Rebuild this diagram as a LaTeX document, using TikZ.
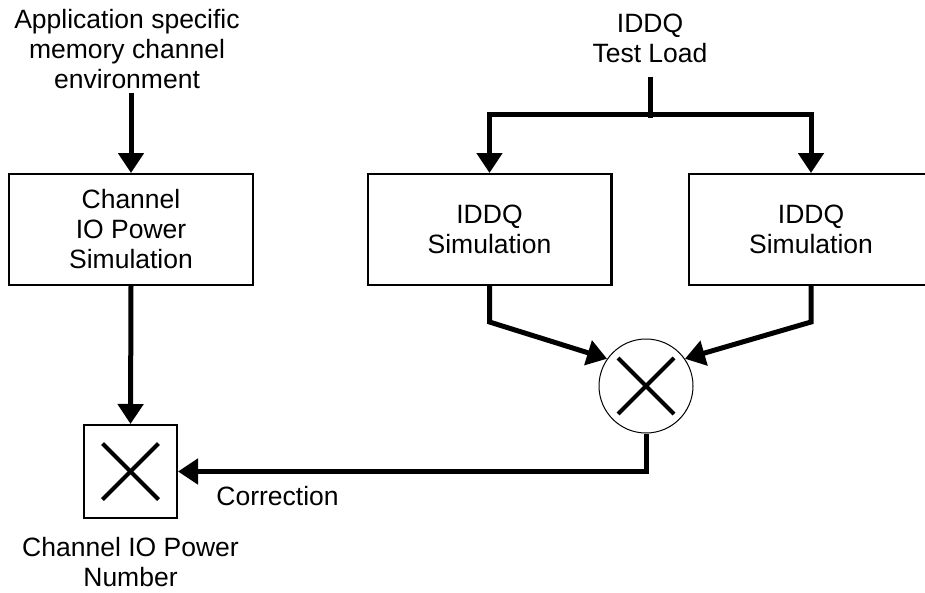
\documentclass[tikz,border=0pt]{standalone}
\usepackage{fontspec}
\setmainfont{Liberation Sans}
\usetikzlibrary{arrows.meta}
\begin{document}
\begin{tikzpicture}[x=1pt,y=-1pt,
	txt/.style={align=center,inner sep=2pt,font=\fontsize{26.5}{30}\selectfont},
	block/.style={txt,draw,line width=2.4pt,minimum width=243.6pt,minimum height=110.6pt},
	wire/.style={line width=5pt},
	flow/.style={wire,-{Triangle[width=25pt,length=20pt]}},
	cross/.style={line width=4pt}]
	\useasboundingbox (0,0) rectangle (925,592);
% inputs
	\node[txt] (env) at (127,49) {Application specific\\memory channel\\environment};
	\node[txt] (load) at (650,38) {IDDQ\\Test Load};

% simulation blocks
	\node[block] (chan) at (131,229.5) {Channel\\IO Power\\Simulation};
	\node[block] (simA) at (489.5,229.5) {IDDQ\\Simulation};
	\node[block] (simB) at (811,229.5) {IDDQ\\Simulation};

% multipliers
	\node[draw,circle,line width=1pt,minimum size=94pt,inner sep=0pt] (mult) at (646,386) {};
	\draw[cross] ([shift={(-28,-28)}]mult.center) -- ([shift={(28,28)}]mult.center);
	\draw[cross] ([shift={(-28,28)}]mult.center) -- ([shift={(28,-28)}]mult.center);

	\node[draw,line width=2.4pt,minimum size=92.6pt,inner sep=0pt] (prod) at (130.5,471.5) {};
	\draw[cross] ([shift={(-28,-28)}]prod.center) -- ([shift={(28,28)}]prod.center);
	\draw[cross] ([shift={(-28,28)}]prod.center) -- ([shift={(28,-28)}]prod.center);

% labels
	\node[txt] (corr) at (277.5,496) {Correction};
	\node[txt,inner sep=0pt] (num) at (130.5,562) {Channel IO Power\\Number};

	%Links
	\coordinate (split) at (650,114);
	\draw[wire,shorten <=12pt] (load.south) -- ([yshift=-4pt]split);
	\draw[flow] (split) -| (simA.north);
	\draw[flow] (split) -| (simB.north);

	\draw[flow,shorten <=2pt] (env.south -| chan.north) -- (chan.north);
	\draw[flow] (chan.south) -- (prod.north);

	\draw[flow] (simA.south) -- ([yshift=-36pt]simA.south) -- (mult.145);
	\draw[flow] (simB.south) -- ([yshift=-36pt]simB.south) -- (mult.35);
	\draw[flow] (mult.south) |- (prod.east);
\end{tikzpicture}
\end{document}
